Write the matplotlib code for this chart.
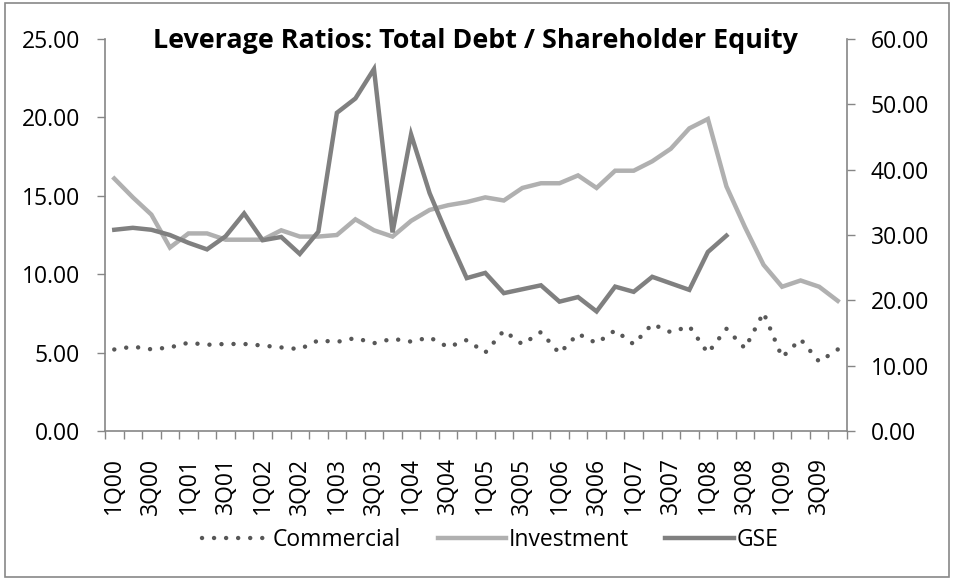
import numpy as np
import matplotlib.pyplot as plt
from matplotlib.patches import Rectangle

# quarters, 1Q00 .. 4Q09
quarters = ['1Q00', '2Q00', '3Q00', '4Q00', '1Q01', '2Q01', '3Q01', '4Q01',
            '1Q02', '2Q02', '3Q02', '4Q02', '1Q03', '2Q03', '3Q03', '4Q03',
            '1Q04', '2Q04', '3Q04', '4Q04', '1Q05', '2Q05', '3Q05', '4Q05',
            '1Q06', '2Q06', '3Q06', '4Q06', '1Q07', '2Q07', '3Q07', '4Q07',
            '1Q08', '2Q08', '3Q08', '4Q08', '1Q09', '2Q09', '3Q09', '4Q09']

# left axis
commercial = [5.20, 5.38, 5.21, 5.33, 5.63, 5.50, 5.55, 5.55, 5.45, 5.33,
              5.22, 5.78, 5.68, 5.93, 5.60, 5.88, 5.70, 5.97, 5.35, 5.80,
              5.00, 6.40, 5.53, 6.31, 4.95, 6.20, 5.60, 6.42, 5.53, 6.82,
              6.30, 6.68, 4.97, 6.52, 5.27, 7.55, 4.70, 5.85, 4.42, 5.20]
investment = [16.1, 14.9, 13.8, 11.7, 12.6, 12.6, 12.2, 12.2, 12.2, 12.8,
              12.4, 12.4, 12.5, 13.5, 12.8, 12.4, 13.4, 14.1, 14.4, 14.6,
              14.9, 14.7, 15.5, 15.8, 15.8, 16.3, 15.5, 16.6, 16.6, 17.2,
              18.0, 19.3, 19.9, 15.6, 13.0, 10.6, 9.2, 9.6, 9.2, 8.3]
# right axis (series stops at 2Q08)
gse = [30.8, 31.1, 30.8, 30.0, 28.8, 27.8, 29.8, 33.3, 29.2, 29.7,
       27.1, 30.5, 48.7, 50.9, 55.4, 30.4, 45.4, 36.4, 29.7, 23.4,
       24.2, 21.1, 21.7, 22.3, 19.8, 20.5, 18.3, 22.1, 21.3, 23.6,
       22.6, 21.6, 27.4, 29.9]

left_ticks = [0, 5, 10, 15, 20, 25]
right_ticks = [0, 10, 20, 30, 40, 50, 60]

plt.rcParams['font.family'] = ['Open Sans', 'DejaVu Sans']
axis_col = '#868686'

fig = plt.figure(figsize=(9.55, 5.79), dpi=100)
ax = fig.add_axes([105/955, 1-431/579, 742/955, 392/579])
ax2 = ax.twinx()

x = np.arange(len(quarters))
gse_y = gse + [np.nan] * (len(quarters) - len(gse))

l1, = ax.plot(x, commercial, color='#575757', lw=3.2,
              linestyle=(0, (0.01, 2.7)), dash_capstyle='round',
              solid_capstyle='round', label='Commercial')
l2, = ax.plot(x, investment, color='#b0b0b0', lw=3.2, label='Investment',
              solid_joinstyle='miter')
l3, = ax2.plot(x, gse_y, color='#808080', lw=3.2, label='GSE',
               solid_joinstyle='miter')

ax.set_xlim(-0.5, len(quarters) - 0.5)
ax.set_ylim(0, 25)
ax2.set_ylim(0, 60)
ax.set_yticks(left_ticks)
ax.set_yticklabels(['%.2f' % v for v in left_ticks])
ax2.set_yticks(right_ticks)
ax2.set_yticklabels(['%.2f' % v for v in right_ticks])

ax.set_xticks(x[::2])
ax.set_xticklabels(quarters[::2], rotation=90)
ax.set_xticks(np.arange(len(quarters) + 1) - 0.5, minor=True)
ax.tick_params(axis='x', which='major', length=0, pad=19, labelsize=16.5)
ax.tick_params(axis='x', which='minor', length=6, width=1, color=axis_col)
ax.tick_params(axis='y', length=6, width=1, color=axis_col, pad=12,
               labelsize=16.5)
ax2.tick_params(axis='y', length=6, width=1, color=axis_col, pad=11,
                labelsize=16.5)

for a in (ax, ax2):
    a.spines['top'].set_visible(False)
    for s in ('left', 'right', 'bottom'):
        a.spines[s].set_color(axis_col)
        a.spines[s].set_linewidth(1.2)
ax.spines['right'].set_visible(False)
ax2.spines['left'].set_visible(False)
ax2.spines['bottom'].set_visible(False)

fig.text(475/955, 1-41/579, 'Leverage Ratios: Total Debt / Shareholder Equity',
         ha='center', va='center', fontsize=19.4, fontweight='bold')

fig.legend(handles=[l1, l2, l3], loc='center', bbox_to_anchor=(490/955, 1-540/579),
           ncol=3, frameon=False, fontsize=16.5, handlelength=3,
           handletextpad=0.1, columnspacing=1.6)

# outer chart border
fig.patches.append(Rectangle((5/955, 2/579), 944/955, 574/579,
                             transform=fig.transFigure, fill=False,
                             edgecolor='#888888', lw=1.2))

fig.savefig('out.png', dpi=100)
